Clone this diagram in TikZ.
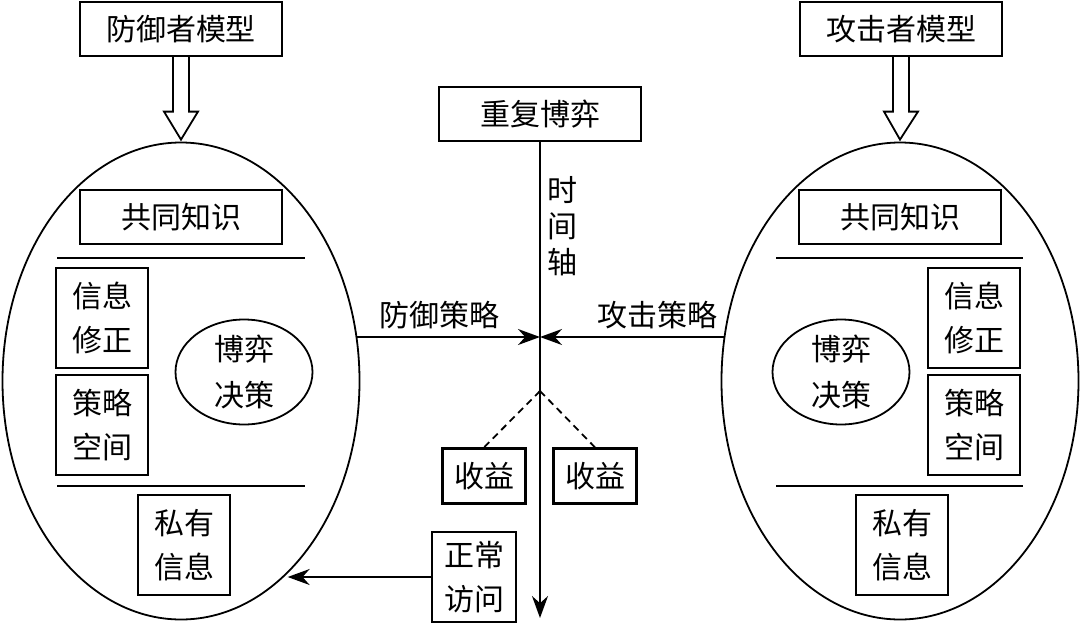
\documentclass[tikz,border=0pt]{standalone}
\usepackage{fontspec}
\newfontfamily\cjk{Noto Sans CJK SC}
\usetikzlibrary{arrows.meta,shapes.geometric,calc}

\begin{document}
\begin{tikzpicture}[
  x=1pt,y=-1pt,
  box/.style={draw, line width=2.3pt, align=center, inner sep=0pt, font=\cjk\fontsize{30}{44}\selectfont},
  model/.style={box, minimum width=202pt, minimum height=54pt},
  small/.style={box, minimum width=92pt, minimum height=100pt},
  gain/.style={box, minimum width=83pt, minimum height=55pt},
  player/.style={draw, ellipse, line width=1.8pt, inner sep=0pt, minimum width=357pt, minimum height=477pt},
  decide/.style={draw, ellipse, line width=1.8pt, align=center, inner sep=0pt, minimum width=137pt, minimum height=105pt, font=\cjk\fontsize{30}{46}\selectfont},
  lbl/.style={font=\cjk\fontsize{30}{36}\selectfont, inner sep=0pt, align=center},
  hollow/.style={draw, fill=white, line width=1.8pt, line join=miter},
  sep/.style={line width=1.8pt},
  arr/.style={-{Stealth[length=22pt,width=16pt]}, line width=1.8pt}
]
\useasboundingbox (0,0) rectangle (1080,625);
% defender side
\node[model] (dm) at (181,29) {防御者模型};
\node[player] (dl) at (181,381) {};
\node[model] (dk) at (181,217) {共同知识};
\node[small] (dx) at (102,318) {信息\\修正};
\node[small] (ds) at (102,425) {策略\\空间};
\node[decide] (dd) at (244,372) {博弈\\决策};
\node[small] (dp) at (184,545) {私有\\信息};
\draw[sep] (57,258) -- (305,258) (57,486) -- (305,486);
% attacker side
\node[model] (am) at (901,29) {攻击者模型};
\node[player] (al) at (900,381) {};
\node[model] (ak) at (900,217) {共同知识};
\node[small] (ax) at (974,318) {信息\\修正};
\node[small] (as) at (974,425) {策略\\空间};
\node[decide] (ad) at (841,372) {博弈\\决策};
\node[small] (ap) at (902,545) {私有\\信息};
\draw[sep] (776,258) -- (1023,258) (776,486) -- (1023,486);
\foreach \a/\b in {dm/dl,am/al}{
  \draw[hollow] let \p1=(\a.south), \p2=(\b.north) in
    (\x1-8pt,\y1) -- (\x1-8pt,\y2+30pt) -- (\x1-17pt,\y2+30pt) -- (\x2,\y2+2pt)
    -- (\x1+17pt,\y2+30pt) -- (\x1+8pt,\y2+30pt) -- (\x1+8pt,\y1);
}
% repeated game, time axis
\node[model] (rep) at (540,114) {重复博弈};
\coordinate (hit) at (540,337);
\coordinate (tend) at (540,618);
\coordinate (pay) at (540,391);
\draw[arr] (rep.south) -- (tend);
\node[lbl] (tl) at (562,226) {时\\间\\轴};
\node[lbl] (dsl) at (439,315) {防御策略};
\node[lbl] (asl) at (657,315) {攻击策略};
\draw[arr] (dl.14 |- hit) -- (hit);
\draw[arr] (al.166 |- hit) -- (hit);
\node[gain] (gl) at (484,476) {收益};
\node[gain] (gr) at (595,476) {收益};
\draw[sep, dash pattern=on 7pt off 5pt] (pay) -- (gl.north) (pay) -- (gr.north);
\node[small, minimum width=84pt, minimum height=90pt] (acc) at (474,577) {正常\\访问};
\draw[arr] (acc.west) -- (dl.-61 |- acc.west);
\end{tikzpicture}
\end{document}
